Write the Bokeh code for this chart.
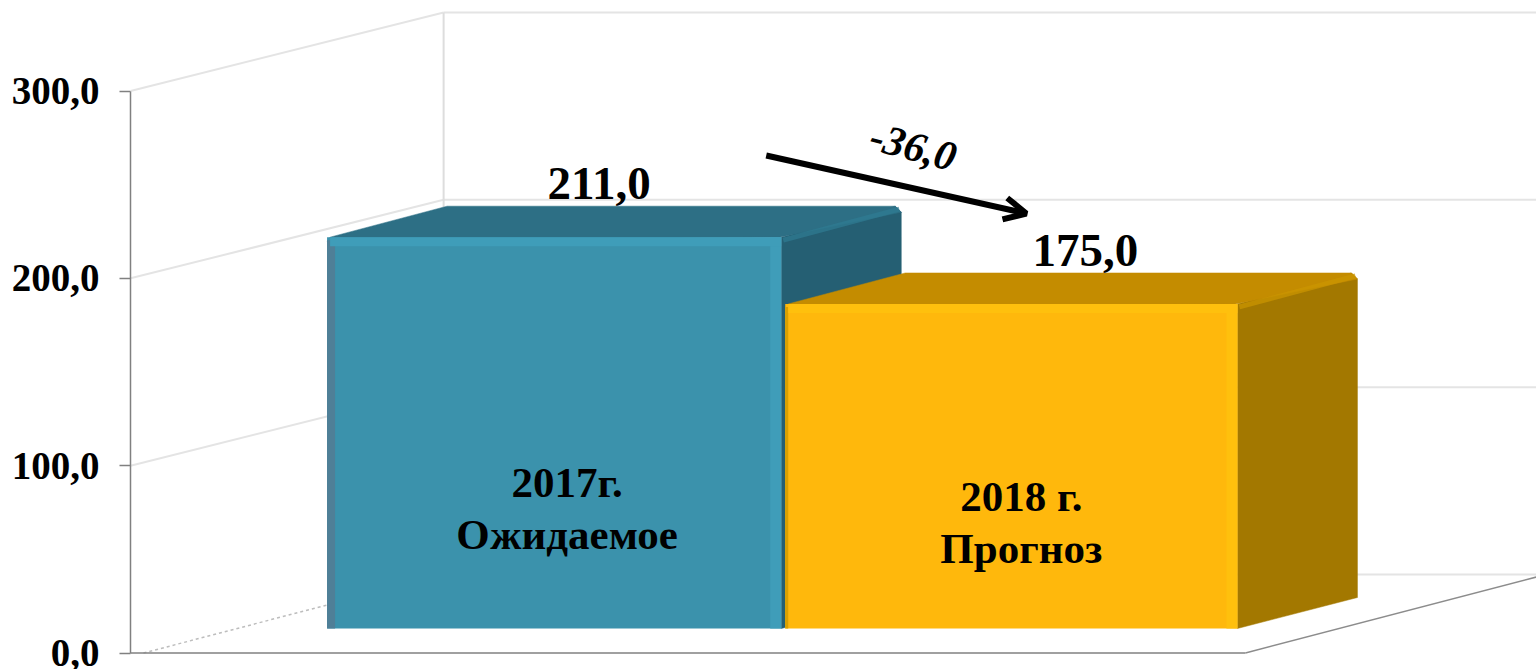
from bokeh.plotting import figure
from bokeh.embed import file_html
from bokeh.resources import INLINE
from bokeh.core.properties import value
from bokeh.models import Range1d, FixedTicker, Arrow, OpenHead, Label

# ---- data ----
categories = ["2017г.\nОжидаемое", "2018 г.\nПрогноз"]
values = [211.0, 175.0]
value_labels = ["211,0", "175,0"]
tick_values = [0, 100, 200, 300]
tick_labels = ["0,0", "100,0", "200,0", "300,0"]
delta_label = "-36,0"

# ---- styles ----
front_colors = ["#3B92AC", "#FFB80C"]
top_colors = ["#2D6F85", "#C48C00"]
side_colors = ["#255F73", "#A37800"]
glow_colors = ["#3F9DB9", "#FFC00D"]
edge_colors = ["#4F7F97", "#D9A000"]
crease_colors = ["#2F7C93", "#CC9500"]
FONT = "Liberation Serif"

# ---- layout: horizontal units are px, vertical units are chart values ----
W, H = 1536, 669
PX = 1.8733                      # px per chart unit
ZERO_PX = 652.5                  # px position of value 0
AXIS_X = 130.5
px = lambda n: n / PX            # px length -> chart units
bar_left = [327, 785]
bar_right = [781, 1237]
label_x = [599, 1085]
cat_x = [567, 1021]
cat_y1 = [91, 83.5]              # first line of the bar captions (chart units)
BASE = px(24.5)                  # front plane of the bars sits above the axis floor
K = 0.99
BAR_DX, BAR_DY = 120, px(31)
WALL_DX, WALL_DY = 313, px(78.5)
FLOOR_END_X, FLOOR_END_DY = 1536, px(76)
FRONT_FLOOR_END = 1245

p = figure(width=W, height=H, output_backend="svg", toolbar_location=None,
           x_range=Range1d(AXIS_X, W),
           y_range=Range1d(-(H - ZERO_PX) / PX, ZERO_PX / PX),
           min_border_left=int(AXIS_X), min_border_right=0, min_border_top=0, min_border_bottom=0,
           x_axis_location=None, outline_line_color=None)
p.styles = {"position": "absolute", "left": "0", "top": "0"}
p.grid.visible = False
p.background_fill_color = "white"

ax = p.yaxis[0]
ax.ticker = FixedTicker(ticks=tick_values)
ax.major_label_overrides = dict(zip(tick_values, tick_labels))
ax.bounds = (0, 300)
ax.major_tick_out, ax.major_tick_in = 11, 0
ax.minor_tick_line_color = None
ax.axis_line_color = ax.major_tick_line_color = "#808080"
ax.axis_line_width = 1.5
ax.major_tick_line_width = 1.5
ax.major_label_standoff = 20
ax.major_label_text_font = FONT
ax.major_label_text_font_style = "bold"
ax.major_label_text_font_size = "39px"
ax.major_label_text_color = "black"

# walls
WALL = "#E4E4E4"
for t in tick_values:
    back = t + WALL_DY
    if t > 0:
        p.line([AXIS_X, AXIS_X + WALL_DX], [t, back], line_color=WALL, line_width=2)
    else:
        p.line([AXIS_X + 13, AXIS_X + WALL_DX], [t, back], line_color="#BDBDBD", line_width=1.5, line_dash="3 3")
    p.line([AXIS_X + WALL_DX, W], [back, back], line_color=WALL, line_width=2)
p.line([AXIS_X + WALL_DX] * 2, [WALL_DY, tick_values[-1] + WALL_DY], line_color="#DDDDDD", line_width=2)
p.line([AXIS_X, FRONT_FLOOR_END], [0, 0], line_color="#808080", line_width=1.5)
p.line([FRONT_FLOOR_END, FLOOR_END_X], [0, FLOOR_END_DY], line_color="#8C8C8C", line_width=1.5)

# bars
for i in range(len(values)):
    l, r = bar_left[i], bar_right[i]
    top = BASE + K * values[i]
    c = px(6)
    # right side
    p.patch([r, r + BAR_DX, r + BAR_DX, r + BAR_DX - 6, r],
            [BASE, BASE + BAR_DY, top + BAR_DY - c, top + BAR_DY, top],
            fill_color=side_colors[i], line_color=side_colors[i], line_width=0.5)
    # top
    p.patch([l, l + 3, l + BAR_DX, r + BAR_DX - 6, r + BAR_DX, r - 2],
            [top - px(4), top, top + BAR_DY, top + BAR_DY, top + BAR_DY - c, top],
            fill_color=top_colors[i], line_color=top_colors[i], line_width=0.5)
    # lit crease between top and side
    p.line([r + 2, r + BAR_DX - 2], [top - px(3), top + BAR_DY - px(3)],
           line_color=crease_colors[i], line_width=5, line_alpha=0.7)
    # front
    p.quad(left=l, right=r, bottom=BASE, top=top,
           fill_color=front_colors[i], line_color=None)
    p.quad(left=l, right=l + (8 if i == 0 else 3), bottom=BASE, top=top - px(3),
           fill_color=edge_colors[i], line_color=None)
    p.quad(left=r - 11, right=r, bottom=BASE, top=top,
           fill_color=glow_colors[i], line_color=None)
    p.quad(left=l + 3, right=r, bottom=top - px(9), top=top,
           fill_color=glow_colors[i], line_color=None)

# value labels
LABEL_OFFSET = px(53.5)
p.text(x=label_x, y=[BASE + K * v + LABEL_OFFSET for v in values], text=value_labels,
       text_font=value(FONT), text_font_style="bold", text_font_size="47px",
       text_color="black", text_align="center", text_baseline="middle")

# captions inside the bars
for i, cat in enumerate(categories):
    first, second = cat.split("\n")
    p.text(x=[cat_x[i]] * 2, y=[cat_y1[i], cat_y1[i] - px(52)], text=[first, second],
           text_font=value(FONT), text_font_style="bold", text_font_size="43px",
           text_color="black", text_align="center", text_baseline="middle")

# change arrow
y_of = lambda n: (ZERO_PX - n) / PX
p.add_layout(Arrow(end=OpenHead(size=22, line_width=6, line_color="black"),
                   x_start=766, y_start=y_of(155), x_end=1026, y_end=y_of(213),
                   line_color="black", line_width=6))
p.add_layout(Label(x=913, y=y_of(146), text=delta_label, angle=-15, angle_units="deg",
                   text_font=FONT, text_font_style="bold italic", text_font_size="42px",
                   text_color="black", text_align="center", text_baseline="middle"))

open("out.html", "w").write(file_html(p, INLINE))
